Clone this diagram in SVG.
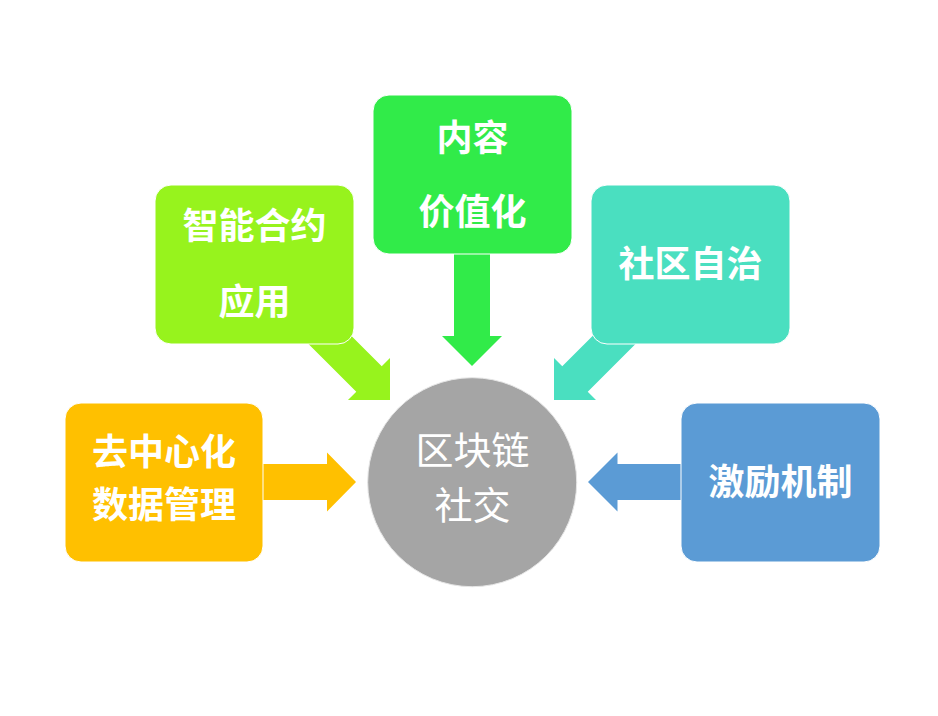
<svg xmlns="http://www.w3.org/2000/svg" width="938" height="716" viewBox="0 0 938 716">
<style>
.box{stroke:#fff;stroke-width:1}
.t{font-family:"Noto Sans CJK SC","Noto Sans CJK TC",sans-serif;font-size:36px;font-weight:bold;fill:#fff;text-anchor:middle}
.c{font-family:"Noto Sans CJK SC","Noto Sans CJK TC",sans-serif;font-size:38px;font-weight:normal;fill:#fff;text-anchor:middle}
</style>
<defs>
<path id="arr" d="M-110,-18 L-29.7,-18 L-29.7,-29.7 L0,0 L-29.7,29.7 L-29.7,18 L-110,18 Z"/>
</defs>
<rect width="938" height="716" fill="#fff"/>
<g id="connectors">
<use href="#arr" fill="#97F31D" transform="translate(390,400) rotate(45)"/>
<use href="#arr" fill="#4ADFC0" transform="translate(554,400) rotate(135)"/>
<path fill="#31EB49" d="M454,254 L490,254 L490,336 L502,336 L472,366 L442,336 L454,336 Z"/>
<path fill="#FFC000" d="M262,464 L327,464 L327,452.5 L356,482 L327,511.5 L327,500 L262,500 Z"/>
<path fill="#5B9BD5" d="M682,464 L617.5,464 L617.5,452.5 L588,482 L617.5,511.5 L617.5,500 L682,500 Z"/>
</g>
<g id="node-smart">
<rect class="box" x="155" y="185" width="199" height="159" rx="16" fill="#97F31D"/>
<text class="t" x="254.5" y="238.5">智能合约</text>
<text class="t" x="254.5" y="315">应用</text>
</g>
<g id="node-content">
<rect class="box" x="373" y="95" width="199" height="159" rx="16" fill="#31EB49"/>
<text class="t" x="472.5" y="151">内容</text>
<text class="t" x="472.5" y="225">价值化</text>
</g>
<g id="node-community">
<rect class="box" x="591" y="185" width="199" height="159" rx="16" fill="#4ADFC0"/>
<text class="t" x="690.5" y="277">社区自治</text>
</g>
<g id="node-decentral">
<rect class="box" x="65" y="403" width="198" height="159" rx="16" fill="#FFC000"/>
<text class="t" x="164" y="465">去中心化</text>
<text class="t" x="164" y="518">数据管理</text>
</g>
<g id="node-incentive">
<rect class="box" x="681" y="403" width="199" height="159" rx="16" fill="#5B9BD5"/>
<text class="t" x="780.5" y="495">激励机制</text>
</g>
<g id="node-center">
<circle cx="472.2" cy="482.2" r="104.5" fill="#A5A5A5" stroke="#e6e6e6" stroke-width="1"/>
<text class="c" x="472.5" y="463.5">区块链</text>
<text class="c" x="472.5" y="519">社交</text>
</g>
</svg>
